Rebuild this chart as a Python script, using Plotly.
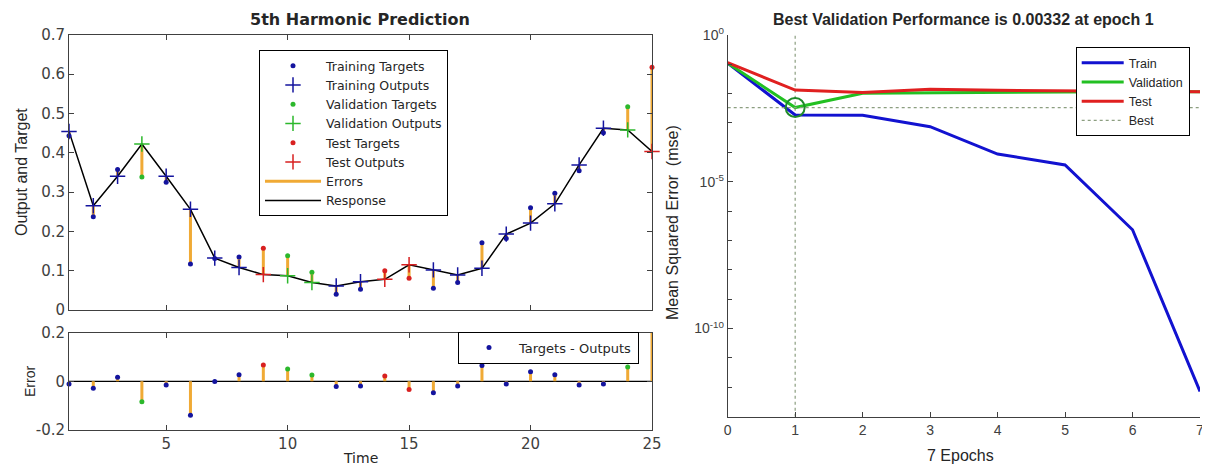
import plotly.graph_objects as go

# ---------------- data ----------------
time = list(range(1, 26))
targets = [0.443, 0.237, 0.357, 0.338, 0.325, 0.117, 0.131, 0.135, 0.157, 0.138,
           0.096, 0.040, 0.053, 0.100, 0.081, 0.055, 0.070, 0.171, 0.182, 0.260,
           0.297, 0.354, 0.451, 0.517, 0.617]
outputs = [0.454, 0.265, 0.340, 0.422, 0.340, 0.256, 0.132, 0.108, 0.090, 0.087,
           0.070, 0.061, 0.072, 0.078, 0.115, 0.102, 0.089, 0.106, 0.193, 0.221,
           0.270, 0.369, 0.462, 0.458, 0.403]
split = ['train', 'train', 'train', 'val', 'train', 'train', 'train', 'train', 'test', 'val',
         'val', 'train', 'train', 'test', 'test', 'train', 'train', 'train', 'train', 'train',
         'train', 'train', 'train', 'val', 'test']

epochs = [0, 1, 2, 3, 4, 5, 6, 7]
train_perf = [0.107, 0.00186, 0.00182, 7.4e-4, 8.7e-5, 3.7e-5, 2.3e-7, 7.2e-13]
val_perf = [0.107, 0.00332, 0.0102, 0.0107, 0.0112, 0.0113, 0.0114, 0.0115]
test_perf = [0.112, 0.0131, 0.0107, 0.0138, 0.0128, 0.0124, 0.0120, 0.0115]
best_epoch = 1
best_perf = 0.00332

# ---------------- styles ----------------
W, H = 1210, 466
OFF = 8  # page body margin offset
def px_x(p): return (p - OFF) / W
def px_y(p): return 1 - (p - OFF) / H

C_TRAIN = '#14149e'
C_VAL = '#2cb82c'
C_TEST = '#d82020'
C_ERR = '#f0aa35'
split_color = {'train': C_TRAIN, 'val': C_VAL, 'test': C_TEST}
split_name = {'train': 'Training', 'val': 'Validation', 'test': 'Test'}
split_rank = {'train': 1, 'val': 3, 'test': 5}

LFONT = 'DejaVu Sans'
RFONT = 'Liberation Sans, Arial'
AX = '#404040'
TXT = '#262626'

errors = [t - o for t, o in zip(targets, outputs)]

fig = go.Figure()

# ---- top-left: errors, response, targets/outputs
ex, ey = [], []
for t, tg, o in zip(time, targets, outputs):
    ex += [t, t, None]
    ey += [tg, o, None]
fig.add_trace(go.Scatter(x=ex, y=ey, mode='lines', line=dict(color=C_ERR, width=3),
                         name='Errors', legend='legend', legendrank=7, xaxis='x', yaxis='y'))
fig.add_trace(go.Scatter(x=time, y=outputs, mode='lines', line=dict(color='black', width=1.5),
                         name='Response', legend='legend', legendrank=8, xaxis='x', yaxis='y'))
for s in ['train', 'val', 'test']:
    xs = [t for t, sp in zip(time, split) if sp == s]
    tg = [v for v, sp in zip(targets, split) if sp == s]
    ou = [v for v, sp in zip(outputs, split) if sp == s]
    fig.add_trace(go.Scatter(x=xs, y=tg, mode='markers', cliponaxis=False,
                             marker=dict(symbol='circle', size=5, color=split_color[s]),
                             name=split_name[s] + ' Targets', legend='legend',
                             legendrank=split_rank[s], xaxis='x', yaxis='y'))
    fig.add_trace(go.Scatter(x=xs, y=ou, mode='markers', cliponaxis=False,
                             marker=dict(symbol='cross-thin', size=11, color=split_color[s],
                                         line=dict(color=split_color[s], width=1.5)),
                             name=split_name[s] + ' Outputs', legend='legend',
                             legendrank=split_rank[s] + 1, xaxis='x', yaxis='y'))

# ---- bottom-left: error stems
fig.add_trace(go.Scatter(x=[time[0], time[-1]], y=[0, 0], mode='lines',
                         line=dict(color='black', width=1.3), showlegend=False,
                         xaxis='x2', yaxis='y2'))
sx, sy = [], []
for t, e in zip(time, errors):
    sx += [t, t, None]
    sy += [0, e, None]
fig.add_trace(go.Scatter(x=sx, y=sy, mode='lines', line=dict(color=C_ERR, width=3),
                         showlegend=False, xaxis='x2', yaxis='y2'))
for s in ['train', 'val', 'test']:
    xs = [t for t, sp in zip(time, split) if sp == s]
    es = [v for v, sp in zip(errors, split) if sp == s]
    fig.add_trace(go.Scatter(x=xs, y=es, mode='markers', cliponaxis=False,
                             marker=dict(symbol='circle', size=5, color=split_color[s]),
                             name='Targets - Outputs', legend='legend2',
                             showlegend=(s == 'train'), xaxis='x2', yaxis='y2'))

# ---- right: performance
BEST_C = '#8c9e80'
fig.add_trace(go.Scatter(x=[best_epoch, best_epoch], y=[1e-13, 1], mode='lines',
                         line=dict(color=BEST_C, width=1.2, dash='dot'),
                         showlegend=False, xaxis='x3', yaxis='y3'))
fig.add_trace(go.Scatter(x=epochs, y=train_perf, mode='lines', line=dict(color='#1212d0', width=3),
                         name='Train', legend='legend3', xaxis='x3', yaxis='y3'))
fig.add_trace(go.Scatter(x=epochs, y=val_perf, mode='lines', line=dict(color='#22c022', width=3),
                         name='Validation', legend='legend3', xaxis='x3', yaxis='y3'))
fig.add_trace(go.Scatter(x=epochs, y=test_perf, mode='lines', line=dict(color='#e02020', width=3),
                         name='Test', legend='legend3', xaxis='x3', yaxis='y3'))
fig.add_trace(go.Scatter(x=[epochs[0], epochs[-1]], y=[best_perf, best_perf], mode='lines',
                         line=dict(color=BEST_C, width=1.2, dash='dot'),
                         name='Best', legend='legend3', xaxis='x3', yaxis='y3'))
fig.add_trace(go.Scatter(x=[best_epoch], y=[best_perf], mode='markers',
                         marker=dict(symbol='circle-open', size=19, color='#1f8a2a',
                                     line=dict(width=2, color='#1f8a2a')),
                         showlegend=False, xaxis='x3', yaxis='y3'))

# ---------------- layout ----------------
left_dom = [px_x(69), px_x(652)]
common = dict(showline=True, linecolor=AX, linewidth=1, ticks='inside', ticklen=5,
              tickcolor=AX, showgrid=False, zeroline=False, automargin=False)

fig.update_layout(
    template='none',
    width=W, height=H, margin=dict(l=0, r=0, t=0, b=0, pad=0), autosize=False,
    paper_bgcolor='white', plot_bgcolor='white',
    xaxis=dict(domain=left_dom, anchor='y', range=[1, 25], tickvals=[5, 10, 15, 20, 25],
               showticklabels=False, mirror='ticks', **common),
    yaxis=dict(domain=[px_y(310), px_y(34.7)], anchor='x', range=[0, 0.7],
               tickvals=[0, 0.1, 0.2, 0.3, 0.4, 0.5, 0.6, 0.7],
               ticktext=['0', '0.1', '0.2', '0.3', '0.4', '0.5', '0.6', '0.7'],
               tickfont=dict(family=LFONT, size=15, color=AX), mirror='ticks', **common),
    xaxis2=dict(domain=left_dom, anchor='y2', range=[1, 25], tickvals=[5, 10, 15, 20, 25],
                tickfont=dict(family=LFONT, size=15, color=AX), mirror='ticks', **common),
    yaxis2=dict(domain=[px_y(430), px_y(332.7)], anchor='x2', range=[-0.2, 0.2],
                tickvals=[-0.2, 0, 0.2], ticktext=['-0.2', '0', '0.2'],
                tickfont=dict(family=LFONT, size=15, color=AX), mirror='ticks', **common),
    xaxis3=dict(domain=[px_x(727.7), px_x(1200)], anchor='y3', range=[0, 7],
                tickvals=epochs, ticktext=[str(e) for e in epochs],
                tickfont=dict(family=RFONT, size=14, color=AX), **common),
    yaxis3=dict(domain=[px_y(416.7), px_y(34.7)], anchor='x3', type='log', range=[-13, 0],
                tickvals=[1e-10, 1e-5, 1e0],
                ticktext=['10<sup>-10</sup>', '10<sup>-5</sup>', '10<sup>0</sup>'],
                minor=dict(tickmode='array', tickvals=[10.0 ** k for k in range(-12, 0)],
                           ticks='inside', ticklen=4, tickcolor=AX, showgrid=False),
                tickfont=dict(family=RFONT, size=14, color=AX), **common),
    legend=dict(x=px_x(259), y=px_y(50), xanchor='left', yanchor='top',
                bordercolor='black', borderwidth=1, bgcolor='white',
                font=dict(family=LFONT, size=12.5, color=TXT), itemwidth=56,
                tracegroupgap=0, traceorder='normal'),
    legend2=dict(x=px_x(458), y=px_y(347.5), xanchor='left', yanchor='middle',
                 bordercolor='black', borderwidth=1, bgcolor='white',
                 font=dict(family=LFONT, size=13, color=TXT), itemwidth=50),
    legend3=dict(x=px_x(1075.7), y=px_y(47), xanchor='left', yanchor='top',
                 bordercolor='black', borderwidth=1, bgcolor='white',
                 font=dict(family=RFONT, size=12.5, color=TXT), itemwidth=42),
    annotations=[
        dict(text='<b>5th Harmonic Prediction</b>', x=px_x(360.5), y=px_y(19), xref='paper', yref='paper',
             showarrow=False, font=dict(family=LFONT, size=16, color=TXT), xanchor='center', yanchor='middle'),
        dict(text='<b>Best Validation Performance is 0.00332 at epoch 1</b>', x=px_x(963), y=px_y(19),
             xref='paper', yref='paper', showarrow=False,
             font=dict(family=RFONT, size=16, color=TXT), xanchor='center', yanchor='middle'),
        dict(text='Output and Target', x=px_x(21), y=px_y(172), xref='paper', yref='paper', textangle=-90,
             showarrow=False, font=dict(family=RFONT, size=16, color=TXT), xanchor='center', yanchor='middle'),
        dict(text='Error', x=px_x(30), y=px_y(382), xref='paper', yref='paper', textangle=-90,
             showarrow=False, font=dict(family=RFONT, size=14, color=TXT), xanchor='center', yanchor='middle'),
        dict(text='Time', x=px_x(360), y=px_y(458), xref='paper', yref='paper',
             showarrow=False, font=dict(family=LFONT, size=14, color=TXT), xanchor='center', yanchor='middle'),
        dict(text='Mean Squared Error  (mse)', x=px_x(672), y=px_y(223), xref='paper', yref='paper', textangle=-90,
             showarrow=False, font=dict(family=RFONT, size=16, color=TXT), xanchor='center', yanchor='middle'),
        dict(text='7 Epochs', x=px_x(960), y=px_y(455), xref='paper', yref='paper',
             showarrow=False, font=dict(family=RFONT, size=16, color=TXT), xanchor='center', yanchor='middle'),
    ],
)

fig.write_html('out.html')
